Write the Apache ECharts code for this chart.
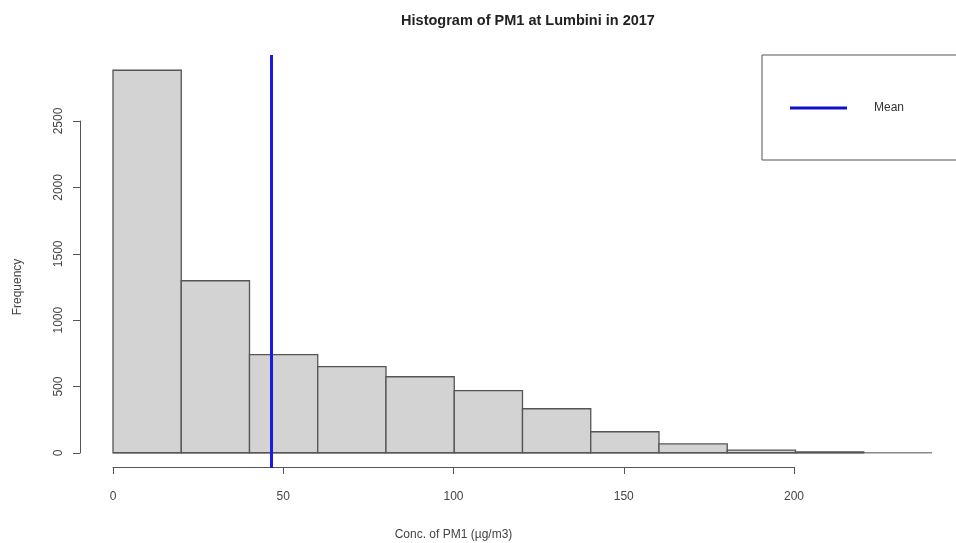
<!DOCTYPE html>
<html>
<head>
<meta charset="utf-8">
<script src="https://cdn.jsdelivr.net/npm/echarts@6/dist/echarts.min.js"></script>
<style>html,body{margin:0;padding:0;background:#fff}#c{width:956px;height:543px}</style>
</head>
<body>
<div id="c"></div>
<script>
// Data
const binStarts = [0, 20, 40, 60, 80, 100, 120, 140, 160, 180, 200];
const binWidth = 20;
const counts = [2880, 1295, 738, 648, 572, 467, 331, 158, 66, 20, 6];
const meanValue = 46.4;
const xTicks = [0, 50, 100, 150, 200];
const yTicks = [0, 500, 1000, 1500, 2000, 2500];
const titleText = 'Histogram of PM1 at Lumbini in 2017';
const xTitle = 'Conc. of PM1 (\u00b5g/m3)';
const yTitle = 'Frequency';

const font = '"Liberation Sans", Arial, sans-serif';
const bars = binStarts.map((s, i) => [s, s + binWidth, counts[i]]);

const chart = echarts.init(document.getElementById('c'), null, {renderer: 'canvas'});
chart.setOption({
  backgroundColor: '#fff',
  animation: false,
  title: {
    text: titleText, left: 523, top: 8, textAlign: 'center',
    textStyle: {fontFamily: font, fontSize: 14.5, fontWeight: 'bold', color: '#222'}
  },
  legend: {
    left: 762, top: 55,
    data: [{name: 'Mean', icon: 'rect'}],
    itemWidth: 57, itemHeight: 3,
    padding: [47, 60, 46, 28],
    borderColor: '#555', borderWidth: 1,
    textStyle: {fontFamily: font, fontSize: 12, color: '#333', padding: [0, 0, 0, 22]},
    selectedMode: false
  },
  grid: [
    {left: 113, right: 24, top: 55, bottom: 75},
    {left: 113, width: 681, top: 466, height: 1},
    {left: 80, width: 1, top: 121, bottom: 90}
  ],
  xAxis: [
    {gridIndex: 0, type: 'value', min: 0, max: 240, show: false},
    {gridIndex: 1, type: 'value', min: 0, max: 200, interval: 50, position: 'bottom',
     axisLine: {show: true, onZero: false, lineStyle: {color: '#555', width: 1}},
     axisTick: {show: true, length: 7, lineStyle: {color: '#555'}},
     axisLabel: {fontFamily: font, fontSize: 12, color: '#444', margin: 24,
                 formatter: function (v) { return String(v); }},
     splitLine: {show: false},
     name: xTitle, nameLocation: 'middle', nameGap: 62,
     nameTextStyle: {fontFamily: font, fontSize: 12, color: '#444'}},
    {gridIndex: 2, type: 'value', min: 0, max: 1, show: false}
  ],
  yAxis: [
    {gridIndex: 0, type: 'value', min: -115, max: 2995, show: false},
    {gridIndex: 1, type: 'value', min: 0, max: 1, show: false},
    {gridIndex: 2, type: 'value', min: 0, max: 2500, interval: 500, position: 'left',
     axisLine: {show: true, onZero: false, lineStyle: {color: '#555', width: 1}},
     axisTick: {show: true, length: 7, lineStyle: {color: '#555'}},
     axisLabel: {fontFamily: font, fontSize: 12, color: '#444', rotate: 90, margin: 15,
                 formatter: function (v) { return String(v); }},
     splitLine: {show: false},
     name: yTitle, nameLocation: 'middle', nameGap: 56, nameRotate: 90,
     nameTextStyle: {fontFamily: font, fontSize: 12, color: '#444'}}
  ],
  series: [
    {
      type: 'custom', xAxisIndex: 0, yAxisIndex: 0, data: bars,
      renderItem: function (params, api) {
        const p0 = api.coord([api.value(0), 0]);
        const p1 = api.coord([api.value(1), api.value(2)]);
        return {
          type: 'rect',
          shape: {x: p0[0], y: p1[1], width: p1[0] - p0[0], height: p0[1] - p1[1]},
          style: {fill: '#d3d3d3', stroke: '#555', lineWidth: 1.3}
        };
      },
      z: 2
    },
    {
      type: 'line', xAxisIndex: 0, yAxisIndex: 0, data: [[0, 0], [240, 0]],
      symbol: 'none', lineStyle: {color: '#8a8a8a', width: 1.5}, z: 1, silent: true
    },
    {
      name: 'Mean', type: 'line', xAxisIndex: 0, yAxisIndex: 0, data: [],
      color: '#1010c8',
      markLine: {
        silent: true, symbol: 'none', label: {show: false},
        lineStyle: {color: '#1a1ae0', width: 3, type: 'solid'},
        data: [{xAxis: meanValue}]
      },
      z: 5
    }
  ]
});
</script>
</body>
</html>
